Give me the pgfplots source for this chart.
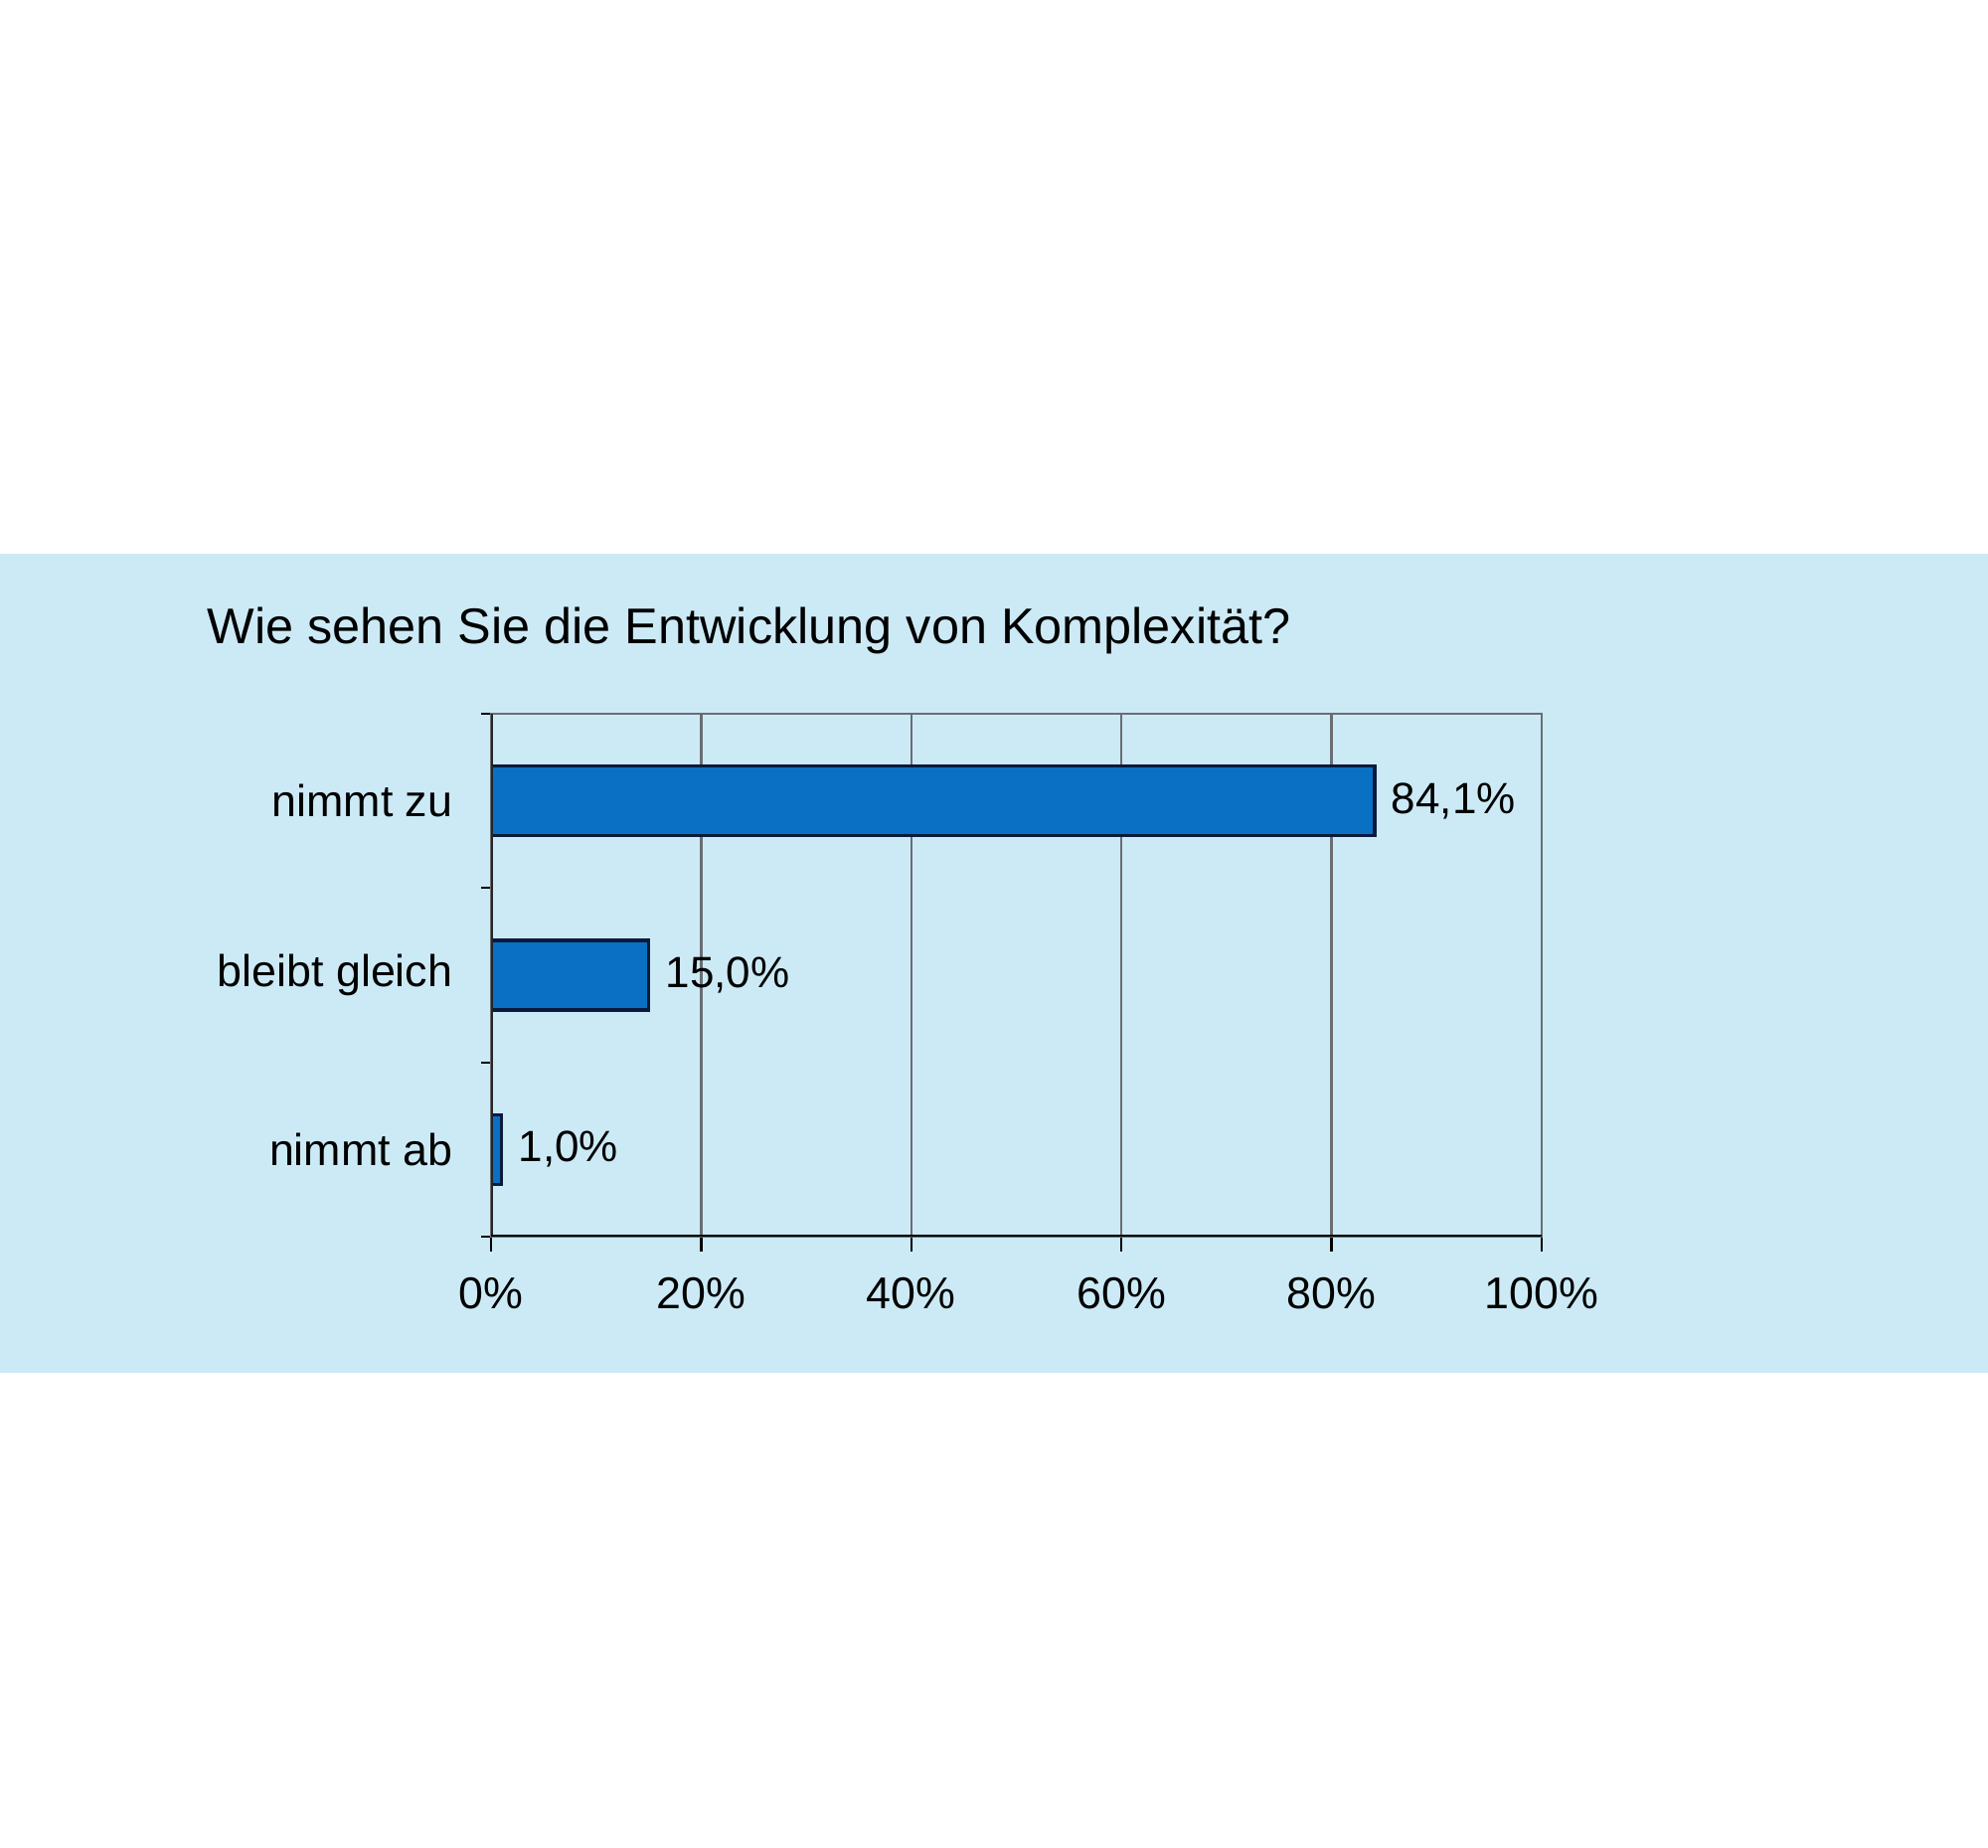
\documentclass[border=0pt]{standalone}
\usepackage{fontspec}
\setmainfont{Liberation Sans}
\usepackage{pgfplots}
\pgfplotsset{compat=1.18}
\definecolor{band}{RGB}{204,234,246}
\definecolor{barfill}{RGB}{10,112,196}
\definecolor{barline}{RGB}{10,26,60}
\definecolor{gridc}{RGB}{105,110,115}
\begin{document}
\begin{tikzpicture}[x=1pt,y=1pt]
\fill[white] (0,0) rectangle (500,464.75);
\fill[band] (0,119.5) rectangle (500,325.5);
\node[anchor=base west,inner sep=0pt,font=\fontsize{12.6}{15}\selectfont] at (52,302.75) {Wie sehen Sie die Entwicklung von Komplexität?};
\begin{axis}[
  at={(123.5pt,153.75pt)}, anchor=south west,
  scale only axis, width=264.25pt, height=131.5pt,
  xbar, bar width=17.5pt,
  xmin=0, xmax=100, ymin=0.5, ymax=3.5,
  xtick={0,20,40,60,80,100},
  xticklabel={\pgfmathprintnumber{\tick}\%},
  /pgf/number format/assume math mode=true,
  ytick={1,2,3},
  yticklabels={nimmt ab, bleibt gleich, nimmt zu},
  minor ytick={0.5,1.5,2.5,3.5},
  xtick pos=bottom, ytick pos=left,
  tick align=outside,
  major tick length=3.75pt,
  minor tick length=2.5pt,
  every major x tick/.append style={black, line width=0.6pt},
  every major y tick/.append style={draw=none},
  every minor y tick/.append style={black, line width=0.5pt},
  xmajorgrids,
  major grid style={gridc, line width=0.6pt},
  axis line style={gridc, line width=0.6pt},
  tick label style={font=\fontsize{11.2}{13}\selectfont, text=black},
  xticklabel style={yshift=-3pt},
  yticklabel style={xshift=-2.4pt},
  point meta=x,
  nodes near coords={\pgfmathprintnumber[fixed,fixed zerofill,precision=1,use comma]{\pgfplotspointmeta}\%},
  every node near coord/.append style={font=\fontsize{11}{13}\selectfont, text=black, xshift=0.5pt},
]
\addplot[fill=barfill, draw=barline, line width=0.85pt] coordinates {(84.1,3) (15.0,2) (1.0,1)};
\draw[black!85, line width=1.1pt] (rel axis cs:0,0) -- (rel axis cs:0,1);
\draw[black, line width=0.8pt] (rel axis cs:0,0) -- (rel axis cs:1,0);
\end{axis}
\end{tikzpicture}
\end{document}
